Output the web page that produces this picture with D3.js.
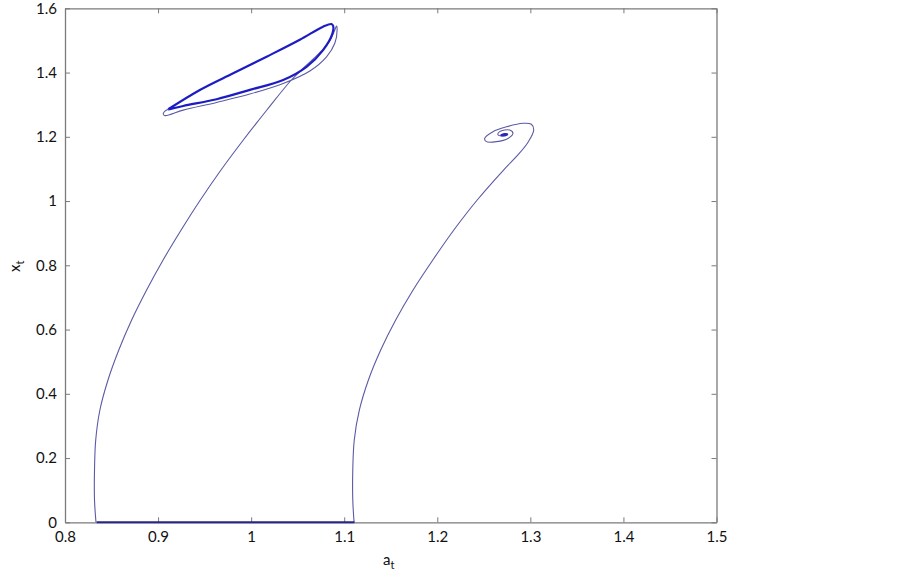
<!DOCTYPE html>
<html><head><meta charset="utf-8">
<script src="https://cdn.jsdelivr.net/npm/d3@7"></script>
<style>body{margin:0;background:#fff}svg{display:block}text{font-family:Lato,"Open Sans",sans-serif;}</style>
</head><body><svg id="c" width="903" height="576"></svg>
<script>
const xTicks=[0.8,0.9,1,1.1,1.2,1.3,1.4,1.5];
const yTicks=[0,0.2,0.4,0.6,0.8,1,1.2,1.4,1.6];
// [a_t, x_t]
const equilibrium=[[0.834,0],[1.111,0]];
const leftBranch=[[0.8333,0],[0.8317,0.0694],[0.8317,0.1628],[0.8330,0.2562],[0.8375,0.3496],[0.8462,0.4430],[0.8578,0.5363],[0.8716,0.6297],[0.8877,0.7231],[0.9054,0.8165],[0.9248,0.9099],[0.9454,1.0033],[0.9676,1.0966],[0.9916,1.1900],[1.0169,1.2834],[1.0432,1.3768],[1.0577,1.4182],[1.0765,1.4702],[1.0851,1.5018],[1.0899,1.5325],[1.0918,1.5449],
 [1.0924,1.5347],[1.0899,1.491],[1.0810,1.449],[1.0631,1.405],[1.0344,1.366],[0.9986,1.333],[0.9629,1.307],[0.9270,1.283],[0.9074,1.266],[0.9055,1.271],[0.9074,1.280],[0.9109,1.2856]];
const innerLoop=[[0.9109,1.2856],[0.9449,1.3457],[0.9807,1.3977],[1.0166,1.4493],[1.0523,1.5021],[1.0773,1.5427],[1.0863,1.551],[1.0881,1.545],[1.0874,1.522],[1.0773,1.470],[1.0595,1.418],[1.0344,1.377],[0.9986,1.346],[0.9629,1.317],[0.9270,1.296],[0.9127,1.286],[0.9109,1.2856]];
const rightBranch=[[1.1106,0],[1.1092,0.0694],[1.1092,0.1628],[1.1108,0.2562],[1.1163,0.3496],[1.1260,0.4430],[1.1392,0.5363],[1.1553,0.6297],[1.1740,0.7231],[1.1952,0.8165],[1.2178,0.9099],[1.2429,1.0033],[1.2712,1.0966],[1.2866,1.1434],[1.2977,1.1839],[1.3036,1.2212],[1.3011,1.239],[1.2921,1.242],[1.2742,1.231],[1.2598,1.216],[1.2509,1.195],[1.2528,1.185],[1.2635,1.185],[1.2760,1.195],[1.2813,1.211],[1.2778,1.221],[1.2670,1.216],[1.2652,1.206],[1.2706,1.203],[1.2735,1.208],[1.2708,1.206]];
const spiralCore=[[1.2680,1.205],[1.2720,1.2095],[1.2755,1.208],[1.2725,1.2035],[1.2680,1.205]];

const svg=d3.select("#c");
const x=d3.scaleLinear().domain([0.8,1.5]).range([65,716.5]);
const y=d3.scaleLinear().domain([0,1.6]).range([522.3,8.3]);
const frame="#7a7a7a";
const fmt=d=>String(+d.toFixed(1));

const gx=svg.append("g").attr("transform",`translate(0,${y(0)})`).call(d3.axisBottom(x).tickValues(xTicks).tickFormat(fmt).tickSizeInner(-5).tickSizeOuter(0).tickPadding(9));
const gxt=svg.append("g").attr("transform",`translate(0,${y(1.6)})`).call(d3.axisTop(x).tickValues(xTicks).tickFormat("").tickSizeInner(-5).tickSizeOuter(0));
const gy=svg.append("g").attr("transform",`translate(${x(0.8)},0)`).call(d3.axisLeft(y).tickValues(yTicks).tickFormat(fmt).tickSizeInner(-5).tickSizeOuter(0).tickPadding(8));
const gyr=svg.append("g").attr("transform",`translate(${x(1.5)},0)`).call(d3.axisRight(y).tickValues(yTicks).tickFormat("").tickSizeInner(-5).tickSizeOuter(0));
[gx,gxt,gy,gyr].forEach(g=>{g.selectAll("path.domain").attr("stroke",frame).attr("stroke-width",1.3);g.selectAll("line").attr("stroke",frame);g.selectAll("text").attr("fill","#111").attr("font-size",15);});

const line=d3.line().x(d=>x(d[0])).y(d=>y(d[1])).curve(d3.curveCatmullRom.alpha(0.5));
svg.append("path").datum(leftBranch).attr("d",line).attr("fill","none").attr("stroke","#5a5aa6").attr("stroke-width",1.1);
svg.append("path").datum(rightBranch).attr("d",line).attr("fill","none").attr("stroke","#5a5aa6").attr("stroke-width",1.1);
svg.append("path").datum(innerLoop).attr("d",line).attr("fill","none").attr("stroke","#1c1cc4").attr("stroke-width",2.2);
svg.append("path").datum(spiralCore).attr("d",line).attr("fill","#2a2ab8").attr("stroke","#2a2ab8").attr("stroke-width",1.5);
svg.append("path").datum(equilibrium).attr("d",d3.line().x(d=>x(d[0])).y(d=>y(d[1]))).attr("fill","none").attr("stroke","#26268a").attr("stroke-width",2);

const xl=svg.append("text").attr("x",383).attr("y",565).attr("font-size",15).attr("fill","#111");
xl.append("tspan").text("a");xl.append("tspan").attr("dy",4).attr("font-size",11).text("t");
const yl=svg.append("text").attr("transform","translate(20,272) rotate(-90)").attr("font-size",15).attr("fill","#111");
yl.append("tspan").text("x");yl.append("tspan").attr("dy",4).attr("font-size",11).text("t");
</script></body></html>
